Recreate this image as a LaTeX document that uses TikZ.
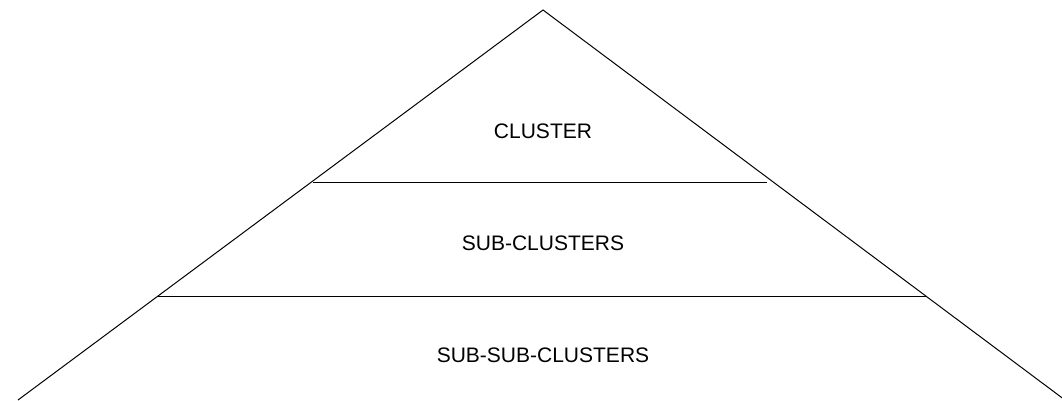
\documentclass[tikz,border=0pt]{standalone}
\usepackage{fontspec}
\setmainfont{Liberation Sans}
\begin{document}
\begin{tikzpicture}[x=1pt,y=-1pt,
  edge/.style={line width=1pt,black},
  label/.style={font=\fontsize{21}{25}\selectfont,inner sep=0pt,anchor=center}]
\useasboundingbox (0,0) rectangle (1062,400);
\coordinate (apex) at (543,10);
\coordinate (bl) at (18,400);
\coordinate (br) at (1065,400);
\draw[edge] (bl) -- (apex) -- (br);
\coordinate (l1a) at (313,182);
\coordinate (l1b) at (767,182);
\coordinate (l2a) at (158,296);
\coordinate (l2b) at (927,296);
\draw[edge] (l1a) -- (l1b);
\draw[edge] (l2a) -- (l2b);
\node[label] (t1) at (543,131) {CLUSTER};
\node[label] (t2) at (543,243) {SUB-CLUSTERS};
\node[label] (t3) at (543,355) {SUB-SUB-CLUSTERS};
\end{tikzpicture}
\end{document}
